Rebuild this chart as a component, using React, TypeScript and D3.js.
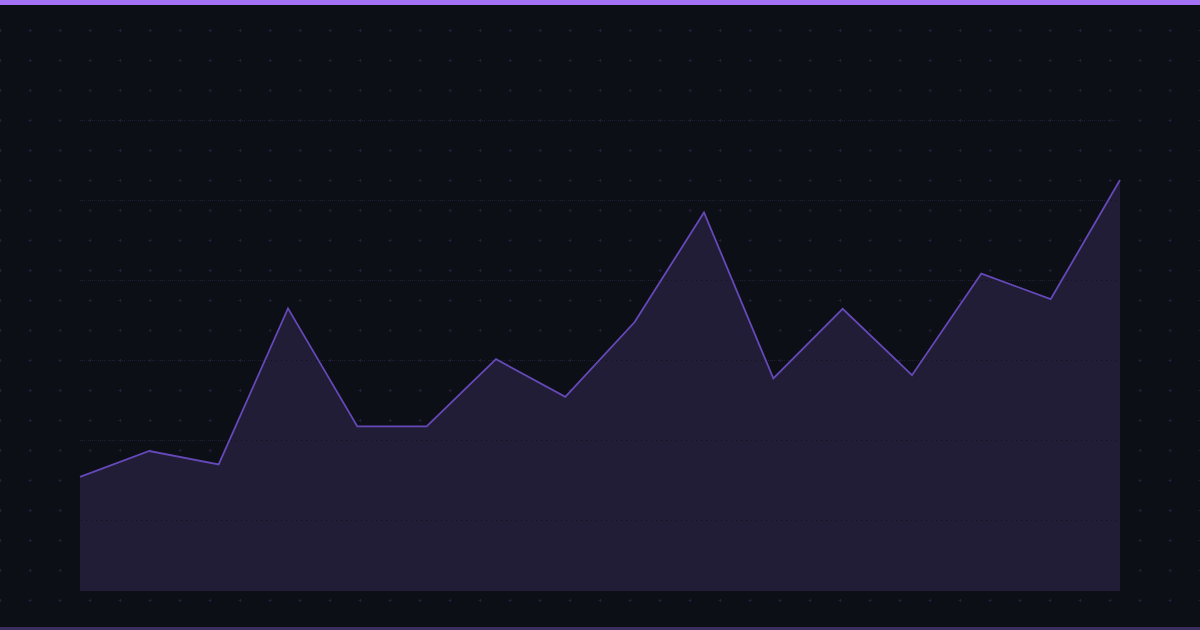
import React from "react";
import * as d3 from "d3";

const W = 1200;
const H = 630;

// Series values (arbitrary units)
const values = [10.8, 17.25, 13.9, 52.9, 23.4, 23.4, 40.2, 30.8, 49.5, 76.9, 35.4, 52.8, 36.2, 61.6, 55.2, 85];
const categories = values.map((_, i) => `P${i + 1}`);
const gridValues = [0, 20, 40, 60, 80, 100];

const margin = { left: 80, right: 80, top: 120, bottom: 39 };

export default function App() {
  const x = d3
    .scalePoint<string>()
    .domain(categories)
    .range([margin.left, W - margin.right]);
  const y = d3.scaleLinear().domain([0, 100]).range([520, 120]);
  const baseY = H - margin.bottom;

  const area = d3
    .area<number>()
    .x((_, i) => x(categories[i]) as number)
    .y0(baseY)
    .y1((d) => y(d));
  const line = d3
    .line<number>()
    .x((_, i) => x(categories[i]) as number)
    .y((d) => y(d));

  const crossXs = d3.range(0, W + 1, 30);
  const crossYs = d3.range(30, H, 30);

  return (
    <div style={{ position: "fixed", left: 0, top: 0, width: W, height: H }}>
      <svg width={W} height={H} style={{ display: "block" }}>
        <rect x={0} y={0} width={W} height={H} fill="#0d0f17" />
        <g stroke="#241f3a" strokeWidth={1}>
          {crossYs.map((cy) =>
            crossXs.map((cx) => (
              <g key={`${cx}-${cy}`}>
                <line x1={cx - 1.5} x2={cx + 1.5} y1={cy + 0.5} y2={cy + 0.5} />
                <line x1={cx + 0.5} x2={cx + 0.5} y1={cy - 1} y2={cy + 2} />
              </g>
            ))
          )}
        </g>
        <path d={area(values) || ""} fill="#221d36" />
        <g>
          {gridValues.map((g) => (
            <g key={g}>
              <line
                x1={margin.left}
                x2={W - margin.right}
                y1={Math.round(y(g)) + 0.5}
                y2={Math.round(y(g)) + 0.5}
                stroke="#221e36"
                strokeWidth={1}
                strokeDasharray="1 1"
              />
              <line
                x1={margin.left}
                x2={W - margin.right}
                y1={Math.round(y(g)) + 0.5}
                y2={Math.round(y(g)) + 0.5}
                stroke="#121019"
                strokeWidth={1}
                strokeDasharray="1 4"
                strokeDashoffset={-1}
              />
            </g>
          ))}
        </g>
        <path d={line(values) || ""} fill="none" stroke="#6549b8" strokeWidth={1.8} strokeLinejoin="miter" />
        <rect x={0} y={0} width={W} height={5} fill="#a472f5" />
        <rect x={0} y={627} width={W} height={3} fill="#3b2d5e" />
      </svg>
    </div>
  );
}
